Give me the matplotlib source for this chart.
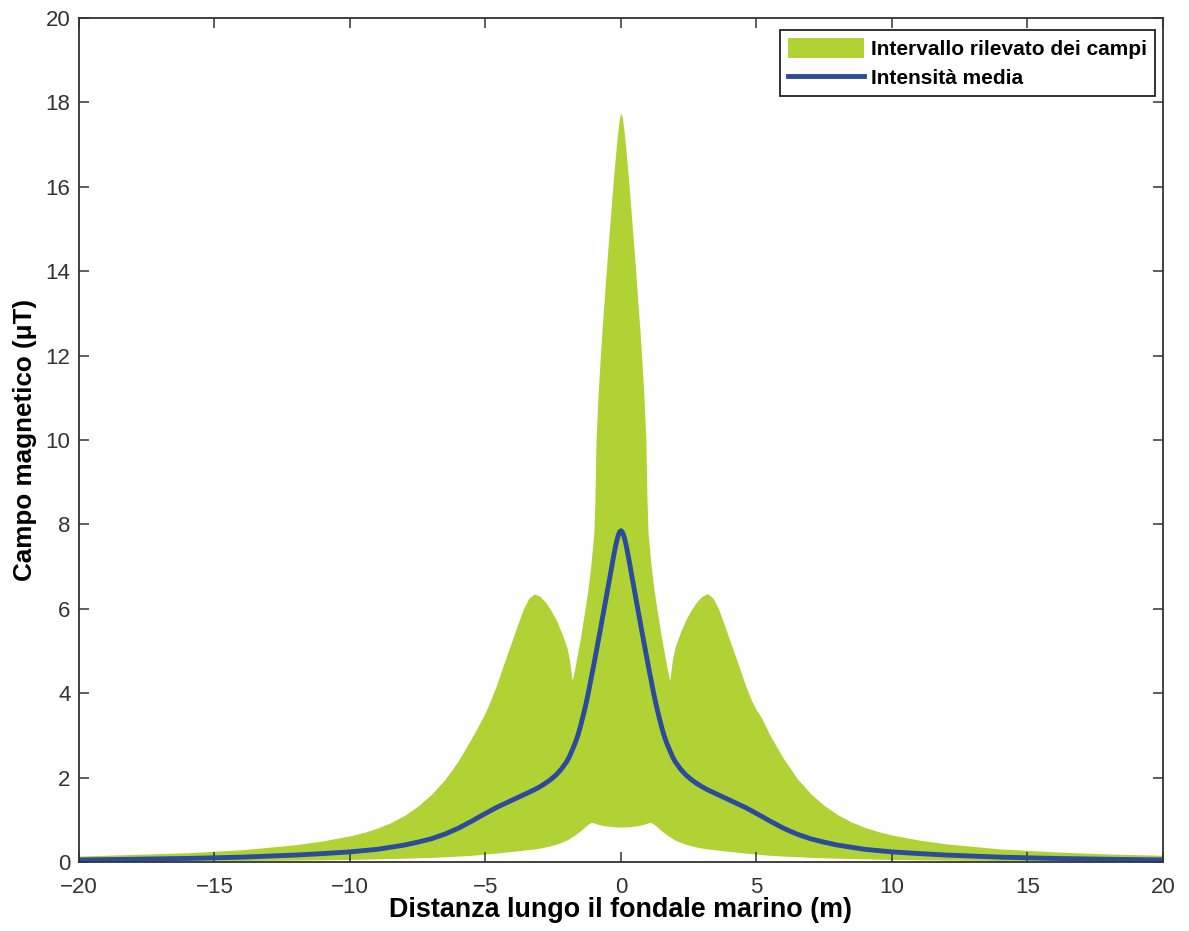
"""Campo magnetico lungo il fondale marino: intervallo rilevato e intensita media."""

import matplotlib

matplotlib.use("Agg")

import matplotlib.pyplot as plt
import numpy as np

# distance along the seabed (m)
distance = [
    -20, -18, -16, -14, -12, -11, -10, -9.5, -9, -8.5, -8, -7.5, -7, -6.5, -6, -5.5,
    -5.2, -5.0, -4.8, -4.6, -4.4, -4.2, -4.0, -3.8, -3.6, -3.4, -3.2, -3.0, -2.8, -2.6,
    -2.4, -2.2, -2.0, -1.9, -1.8, -1.7, -1.6, -1.5, -1.4, -1.3, -1.2, -1.1, -1.0, -0.96,
    -0.92, -0.85, -0.77, -0.7, -0.62, -0.55, -0.48, -0.4, -0.34, -0.27, -0.2, -0.15,
    -0.1, -0.05, 0,
    0.05, 0.1, 0.15, 0.2, 0.27, 0.34, 0.4, 0.48, 0.55, 0.62, 0.7, 0.77, 0.85, 0.92,
    0.96, 1.0, 1.1, 1.2, 1.3, 1.4, 1.5, 1.6, 1.7, 1.8, 1.9, 2.0, 2.2, 2.4, 2.6, 2.8,
    3.0, 3.2, 3.4, 3.6, 3.8, 4.0, 4.2, 4.4, 4.6, 4.8, 5.0, 5.2, 5.5, 6, 6.5, 7, 7.5,
    8, 8.5, 9, 9.5, 10, 11, 12, 14, 16, 18, 20,
]

# upper edge of the measured range (uT)
field_max = [
    0.14, 0.18, 0.22, 0.29, 0.41, 0.5, 0.62, 0.7, 0.8, 0.93, 1.1, 1.32, 1.6, 1.95, 2.4, 2.95,
    3.3, 3.55, 3.85, 4.18, 4.55, 4.92, 5.28, 5.65, 6.0, 6.25, 6.35, 6.3, 6.17, 5.98,
    5.75, 5.45, 5.1, 4.8, 4.3, 4.6, 4.95, 5.3, 5.7, 6.1, 6.55, 7.1, 7.8, 8.6,
    10.0, 11.0, 11.9, 12.6, 13.3, 13.95, 14.55, 15.2, 15.7, 16.25, 16.75, 17.1,
    17.4, 17.65, 17.75,
    17.65, 17.4, 17.1, 16.75, 16.25, 15.7, 15.2, 14.55, 13.95, 13.3, 12.6, 11.9, 11.0, 10.0,
    8.6, 7.8, 7.1, 6.55, 6.1, 5.7, 5.3, 4.95, 4.6, 4.3, 4.8, 5.1, 5.45, 5.75, 5.98, 6.17,
    6.3, 6.36, 6.25, 6.0, 5.65, 5.28, 4.92, 4.55, 4.18, 3.85, 3.6, 3.4, 3.0, 2.45, 1.98, 1.62, 1.34,
    1.12, 0.95, 0.82, 0.72, 0.64, 0.52, 0.43, 0.31, 0.24, 0.19, 0.16,
]

# lower edge of the measured range (uT)
field_min = [
    0.02, 0.024, 0.028, 0.035, 0.045, 0.052, 0.06, 0.067, 0.075, 0.082, 0.09, 0.1, 0.11, 0.125, 0.14, 0.16,
    0.175, 0.19, 0.2, 0.21, 0.225, 0.24, 0.25, 0.265, 0.28, 0.295, 0.31, 0.33, 0.355, 0.385,
    0.42, 0.465, 0.52, 0.56, 0.6, 0.64, 0.69, 0.74, 0.79, 0.85, 0.9, 0.94, 0.93, 0.92,
    0.91, 0.895, 0.88, 0.87, 0.86, 0.855, 0.85, 0.845, 0.84, 0.835, 0.832, 0.83,
    0.83, 0.83, 0.83,
    0.83, 0.83, 0.83, 0.832, 0.835, 0.84, 0.845, 0.85, 0.855, 0.86, 0.87, 0.88, 0.895, 0.91,
    0.92, 0.93, 0.94, 0.9, 0.85, 0.79, 0.74, 0.69, 0.64, 0.6, 0.56, 0.52, 0.465, 0.42, 0.385, 0.355,
    0.33, 0.31, 0.295, 0.28, 0.265, 0.25, 0.24, 0.225, 0.21, 0.2, 0.19, 0.175, 0.16, 0.14, 0.125, 0.11, 0.1,
    0.09, 0.082, 0.075, 0.067, 0.06, 0.052, 0.045, 0.035, 0.028, 0.024, 0.02,
]

# mean intensity (uT)
field_mean = [
    0.05, 0.065, 0.085, 0.115, 0.165, 0.2, 0.24, 0.27, 0.3, 0.35, 0.4, 0.47, 0.55, 0.66, 0.8, 0.97,
    1.08, 1.15, 1.22, 1.29, 1.35, 1.41, 1.47, 1.53, 1.59, 1.65, 1.71, 1.78, 1.86, 1.95,
    2.06, 2.2, 2.38, 2.5, 2.65, 2.8, 2.98, 3.2, 3.45, 3.72, 4.02, 4.35, 4.68, 4.82,
    4.95, 5.2, 5.47, 5.72, 6.0, 6.25, 6.5, 6.78, 7.0, 7.25, 7.48, 7.62,
    7.74, 7.82, 7.85,
    7.82, 7.74, 7.62, 7.48, 7.25, 7.0, 6.78, 6.5, 6.25, 6.0, 5.72, 5.47, 5.2, 4.95,
    4.82, 4.68, 4.35, 4.02, 3.72, 3.45, 3.2, 2.98, 2.8, 2.65, 2.5, 2.38, 2.2, 2.06, 1.95, 1.86,
    1.78, 1.71, 1.65, 1.59, 1.53, 1.47, 1.41, 1.35, 1.29, 1.22, 1.15, 1.08, 0.97, 0.8, 0.66, 0.55, 0.47,
    0.4, 0.35, 0.3, 0.27, 0.24, 0.2, 0.165, 0.115, 0.085, 0.065, 0.05,
]

GREEN = "#b0d235"
BLUE = "#2c4b9c"

plt.rcParams["font.family"] = ["Liberation Sans", "DejaVu Sans"]

fig = plt.figure(figsize=(11.89, 9.31), dpi=100)
ax = fig.add_axes([0.0664, 0.0741, 0.9117, 0.9066])

x = np.array(distance)
ax.fill_between(x, field_min, field_max, color=GREEN, linewidth=0,
                label="Intervallo rilevato dei campi")
ax.plot(x, field_mean, color=BLUE, linewidth=3.5, solid_joinstyle="round",
        label="Intensità media")

ax.set_xlim(-20, 20)
ax.set_ylim(0, 20)
xticks = list(range(-20, 21, 5))
ax.set_xticks(xticks)
ax.set_yticks(np.arange(0, 21, 2))
ax.set_xticklabels([f"\u2212{abs(v)}" if v < 0 else str(v) for v in xticks])

ax.tick_params(direction="in", top=True, right=True, length=7, width=1.1,
               labelsize=16, labelcolor="#333333", color="#333333")
ax.tick_params(axis="x", pad=11)
ax.tick_params(axis="y", pad=6)
for spine in ax.spines.values():
    spine.set_color("#333333")
    spine.set_linewidth(1.3)

ax.set_xlabel("Distanza lungo il fondale marino (m)", fontsize=19.4, fontweight="bold", labelpad=-1)
ax.set_ylabel("Campo magnetico (μT)", fontsize=18.7, fontweight="bold", labelpad=6)

leg = ax.legend(loc="upper right", bbox_to_anchor=(0.9926, 0.9858), borderaxespad=0,
                prop={"weight": "bold", "size": 15},
                handlelength=3.65, handleheight=1.05, fancybox=False, framealpha=1,
                edgecolor="#222222", borderpad=0.4, labelspacing=0.4,
                handletextpad=0.3)
leg.get_frame().set_linewidth(1.3)

fig.savefig("out.png", dpi=100)
